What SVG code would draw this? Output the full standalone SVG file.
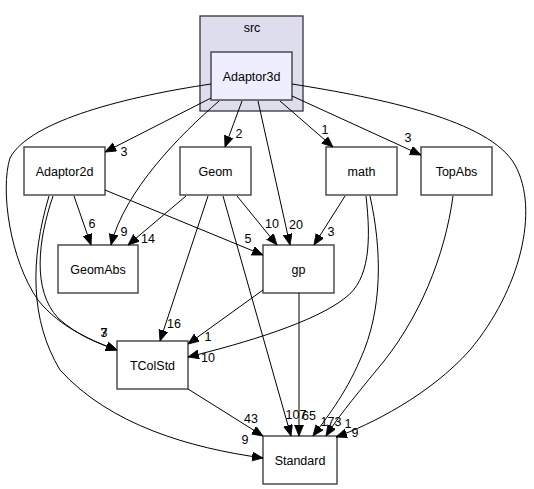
<svg xmlns="http://www.w3.org/2000/svg" width="534" height="489" viewBox="0 0 534 489">
<style>
  .node rect { fill: #ffffff; stroke: #404040; stroke-width: 1.4; }
  .node text, .lbl, .cl text { font-family: "Liberation Sans", Arial, sans-serif; font-size: 12.5px; fill: #000000; text-anchor: middle; }
  .edges path { fill: none; stroke: #000000; stroke-width: 1; marker-end: url(#arr); }
</style>
<defs>
  <marker id="arr" markerUnits="userSpaceOnUse" markerWidth="12" markerHeight="10" refX="11" refY="4.5" orient="auto">
    <path d="M0,0 L11,4.5 L0,9 z" fill="#000000" stroke="#000000" stroke-width="0.8"/>
  </marker>
</defs>
<rect width="534" height="489" fill="#ffffff"/>
<g id="cluster_src" class="cl">
  <rect x="200" y="16" width="103" height="95" fill="#ddddee" stroke="#404040" stroke-width="1.4"/>
  <text x="252" y="32">src</text>
</g>
<g id="node_Adaptor3d" class="node">
  <rect x="211" y="52" width="81" height="48" style="fill:#eeeeff"/>
  <text x="251.5" y="80.5">Adaptor3d</text>
</g>
<g id="node_Adaptor2d" class="node">
  <rect x="24" y="147" width="81" height="48"/>
  <text x="64.5" y="175.5">Adaptor2d</text>
</g>
<g id="node_Geom" class="node">
  <rect x="180" y="147" width="71" height="48"/>
  <text x="215.5" y="175.5">Geom</text>
</g>
<g id="node_math" class="node">
  <rect x="326" y="147" width="71" height="48"/>
  <text x="361.5" y="175.5">math</text>
</g>
<g id="node_TopAbs" class="node">
  <rect x="421" y="147" width="71" height="48"/>
  <text x="456.5" y="175.5">TopAbs</text>
</g>
<g id="node_GeomAbs" class="node">
  <rect x="58" y="245" width="80" height="48"/>
  <text x="98" y="273.5">GeomAbs</text>
</g>
<g id="node_gp" class="node">
  <rect x="263" y="245" width="71" height="48"/>
  <text x="298.5" y="273.5">gp</text>
</g>
<g id="node_TColStd" class="node">
  <rect x="117" y="341" width="71" height="48"/>
  <text x="152.5" y="369.5">TColStd</text>
</g>
<g id="node_Standard" class="node">
  <rect x="263" y="436" width="74" height="48"/>
  <text x="300" y="464.5">Standard</text>
</g>
<g id="hidden_label">
  <text class="lbl" x="348" y="428">1</text>
</g>
<g id="edges" class="edges">
  <path d="M211,98 L105,152"/>
  <path d="M219,101 C180,135 125,190 111,245"/>
  <path d="M242,101 L225,147"/>
  <path d="M258,101 L290,245"/>
  <path d="M280,101 L333,147"/>
  <path d="M292,96 L421,155"/>
  <path d="M292,84 C380,98 490,120 515,165 C540,210 520,290 470,350 C430,395 370,425 336,437"/>
  <path d="M211,84 C130,96 30,120 10,158 C0,190 10,260 38,300 C60,328 95,342 117,350"/>
  <path d="M74,196 L91,245"/>
  <path d="M105,190 L263,255"/>
  <path d="M53,196 C38,240 32,290 58,318 C78,336 100,344 117,350"/>
  <path d="M49,196 C30,260 30,320 60,370 C110,425 190,448 263,458"/>
  <path d="M186,196 L128,245"/>
  <path d="M237,196 L277,245"/>
  <path d="M208,196 L160,341"/>
  <path d="M223,196 L291,436"/>
  <path d="M263,290 L188,344"/>
  <path d="M299,293 L299,436"/>
  <path d="M345,196 L314,245"/>
  <path d="M366,196 C371,240 370,280 345,298 C315,322 245,343 188,357"/>
  <path d="M370,196 C382,250 383,310 360,360 C345,395 325,420 313,436"/>
  <path d="M453,196 C445,255 420,320 375,372 C352,400 336,420 326,436"/>
  <path d="M188,389 L263,436"/>
</g>
<g id="edge_labels">
  <text class="lbl" x="124" y="156">3</text>
  <text class="lbl" x="124" y="236">9</text>
  <text class="lbl" x="239" y="138">2</text>
  <text class="lbl" x="296" y="229">20</text>
  <text class="lbl" x="325" y="134">1</text>
  <text class="lbl" x="408" y="142">3</text>
  <text class="lbl" x="104" y="337">7</text>
  <text class="lbl" x="104" y="337">3</text>
  <text class="lbl" x="355" y="437">9</text>
  <text class="lbl" x="92" y="228">6</text>
  <text class="lbl" x="248" y="243">5</text>
  <text class="lbl" x="245" y="444">9</text>
  <text class="lbl" x="148" y="243">14</text>
  <text class="lbl" x="272" y="228">10</text>
  <text class="lbl" x="174" y="328">16</text>
  <text class="lbl" x="296" y="419">107</text>
  <text class="lbl" x="331" y="236">3</text>
  <text class="lbl" x="208" y="362">10</text>
  <text class="lbl" x="331" y="426">173</text>
  <text class="lbl" x="208" y="341">1</text>
  <text class="lbl" x="309" y="420">65</text>
  <text class="lbl" x="251" y="423">43</text>
</g>
</svg>
